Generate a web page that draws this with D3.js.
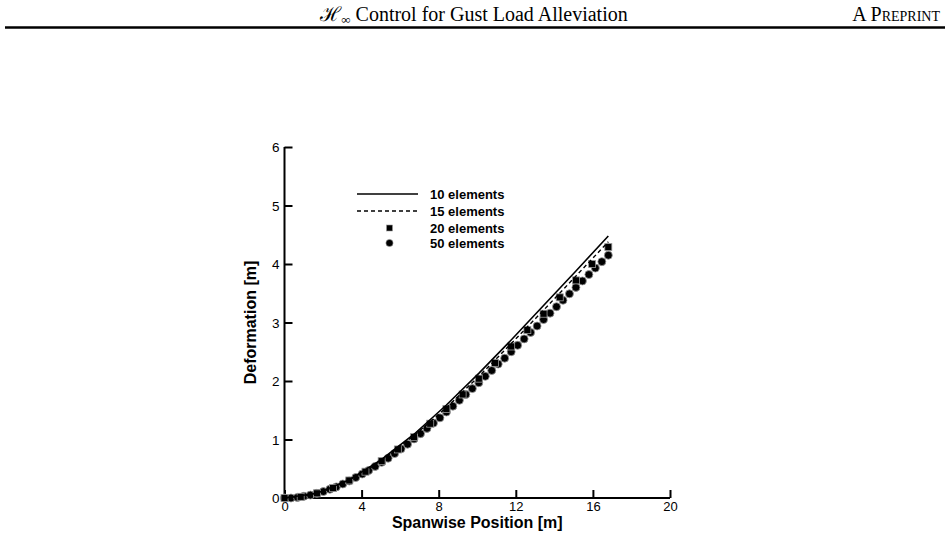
<!DOCTYPE html>
<html>
<head>
<meta charset="utf-8">
<script src="https://cdn.jsdelivr.net/npm/d3@7"></script>
<style>
  body { margin: 0; background: #fff; }
  svg { display: block; }
</style>
</head>
<body>
<svg id="chart" width="950" height="538"></svg>
<script>
// wing span and tick labels
const span = 16.8
const xTicks = [0, 4, 8, 12, 16, 20]
const yTicks = [0, 1, 2, 3, 4, 5, 6]

// tip deformation per node
const elem10 = [0, 0.08, 0.31, 0.66, 1.09, 1.59, 2.13, 2.70, 3.29, 3.88, 4.48]
const elem15 = [0, 0.04, 0.14, 0.31, 0.52, 0.78, 1.07, 1.38, 1.72, 2.08, 2.45, 2.83, 3.21, 3.60, 3.99, 4.38]
const elem20 = [0, 0.02, 0.08, 0.17, 0.30, 0.45, 0.63, 0.83, 1.04, 1.27, 1.52, 1.77, 2.04, 2.31, 2.59, 2.87, 3.15, 3.43, 3.72, 4.00, 4.29]
const elem50 = [0, 0.00, 0.01, 0.03, 0.05, 0.08, 0.11, 0.15, 0.19, 0.24, 0.29, 0.35, 0.41, 0.47, 0.54, 0.61, 0.68, 0.76, 0.84, 0.92,
  1.01, 1.10, 1.19, 1.28, 1.37, 1.47, 1.57, 1.67, 1.77, 1.87, 1.97, 2.08, 2.18, 2.29, 2.39, 2.50, 2.61, 2.72, 2.83, 2.94,
  3.05, 3.16, 3.27, 3.38, 3.49, 3.60, 3.71, 3.82, 3.93, 4.04, 4.15]

const legendLabels = ["10 elements", "15 elements", "20 elements", "50 elements"]

const toPoints = arr => arr.map((v, i) => ({ x: i * span / (arr.length - 1), y: v }))

const svg = d3.select("#chart")

// page header
svg.append("text")
  .attr("x", 474).attr("y", 21)
  .attr("text-anchor", "middle")
  .style("font-family", "'Liberation Serif', 'DejaVu Serif', serif")
  .style("font-size", "20px")
  .call(t => {
    t.append("tspan").text("ℋ")
    t.append("tspan").attr("dy", 3).style("font-size", "13px").text("∞")
    t.append("tspan").attr("dy", -3).text(" Control for Gust Load Alleviation")
  })

svg.append("text")
  .attr("x", 940).attr("y", 21)
  .attr("text-anchor", "end")
  .style("font-family", "'Liberation Serif', serif")
  .style("font-size", "20px")
  .style("font-variant", "small-caps")
  .text("A Preprint")

svg.append("line")
  .attr("x1", 5).attr("x2", 945)
  .attr("y1", 27.5).attr("y2", 27.5)
  .attr("stroke", "#000").attr("stroke-width", 2.4)

const x = d3.scaleLinear().domain([0, 20]).range([284.5, 670])
const y = d3.scaleLinear().domain([0, 6]).range([498, 147])

const g = svg.append("g")
  .style("font-family", "'Liberation Sans', Arial, sans-serif")

// axes, ticks pointing inward
const xAxis = g.append("g")
  .attr("transform", `translate(0,${y(0)})`)
  .call(d3.axisTop(x).tickValues(xTicks).tickSize(8).tickFormat(d3.format("d")))
xAxis.select(".domain").attr("stroke-width", 2).attr("d", `M${x(0)},0H${x(20)}`)
xAxis.selectAll(".tick line").attr("stroke-width", 2)
xAxis.selectAll(".tick text")
  .attr("y", 12.5).attr("dy", 0)
  .style("font-size", "13px")

const yAxis = g.append("g")
  .attr("transform", `translate(${x(0)},0)`)
  .call(d3.axisRight(y).tickValues(yTicks).tickSize(8).tickFormat(d3.format("d")))
yAxis.select(".domain").attr("stroke-width", 2).attr("d", `M0,${y(0)}V${y(6)}`)
yAxis.selectAll(".tick line").attr("stroke-width", 2)
yAxis.selectAll(".tick text")
  .attr("x", -5).attr("dy", "0.35em")
  .attr("text-anchor", "end")
  .style("font-size", "13.5px")

g.append("text")
  .attr("x", (x(0) + x(20)) / 2).attr("y", 527.5)
  .attr("text-anchor", "middle")
  .style("font-weight", "bold").style("font-size", "16px")
  .text("Spanwise Position [m]")

g.append("text")
  .attr("transform", `translate(256,${(y(0) + y(6)) / 2}) rotate(-90)`)
  .attr("text-anchor", "middle")
  .style("font-weight", "bold").style("font-size", "16px")
  .text("Deformation [m]")

// data marks
const line = d3.line().x(d => x(d.x)).y(d => y(d.y))

g.append("g").selectAll("circle")
  .data(toPoints(elem50))
  .join("circle")
  .attr("cx", d => x(d.x)).attr("cy", d => y(d.y))
  .attr("r", 4)
  .attr("fill", "#000").attr("stroke", "#999").attr("stroke-width", 0.8)

g.append("g").selectAll("rect")
  .data(toPoints(elem20))
  .join("rect")
  .attr("x", d => x(d.x) - 3.5).attr("y", d => y(d.y) - 3.5)
  .attr("width", 7).attr("height", 7)
  .attr("fill", "#000").attr("stroke", "#999").attr("stroke-width", 0.8)

g.append("path")
  .datum(toPoints(elem15))
  .attr("d", line)
  .attr("fill", "none").attr("stroke", "#000")
  .attr("stroke-width", 1.4).attr("stroke-dasharray", "4,3")

g.append("path")
  .datum(toPoints(elem10))
  .attr("d", line)
  .attr("fill", "none").attr("stroke", "#000")
  .attr("stroke-width", 1.6)

// legend
const legendY = [194, 211, 228, 243]
const legend = g.append("g")
legend.append("line")
  .attr("x1", 357).attr("x2", 418).attr("y1", legendY[0]).attr("y2", legendY[0])
  .attr("stroke", "#000").attr("stroke-width", 1.6)
legend.append("line")
  .attr("x1", 357).attr("x2", 418).attr("y1", legendY[1]).attr("y2", legendY[1])
  .attr("stroke", "#000").attr("stroke-width", 1.4).attr("stroke-dasharray", "4,3")
legend.append("rect")
  .attr("x", 386.5).attr("y", legendY[2] - 3).attr("width", 6).attr("height", 6)
  .attr("fill", "#000").attr("stroke", "#999").attr("stroke-width", 0.6)
legend.append("circle")
  .attr("cx", 389.5).attr("cy", legendY[3]).attr("r", 3.6)
  .attr("fill", "#000").attr("stroke", "#999").attr("stroke-width", 0.6)
legend.selectAll("text.lbl")
  .data(legendLabels)
  .join("text")
  .attr("class", "lbl")
  .attr("x", 430).attr("y", (d, i) => legendY[i] + 4.5)
  .style("font-weight", "bold").style("font-size", "13px")
  .text(d => d)
</script>
</body>
</html>
